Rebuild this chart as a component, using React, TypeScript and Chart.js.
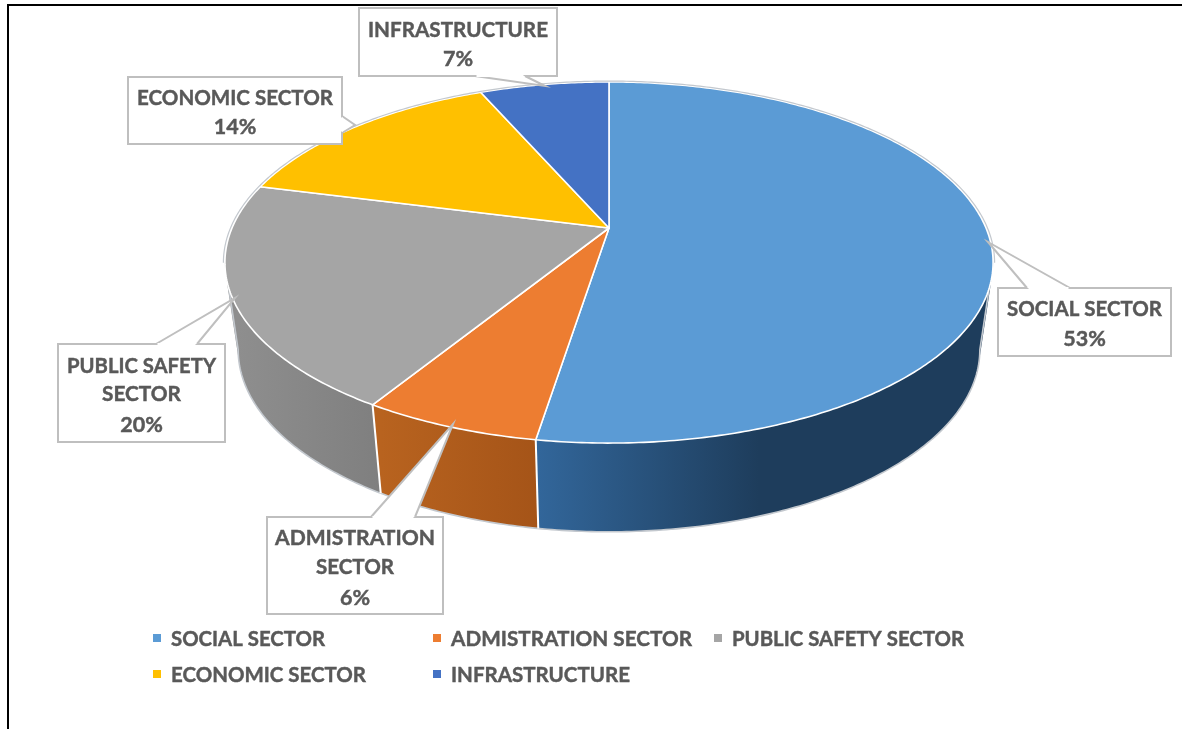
import React, { useEffect, useRef } from "react";
import { Chart, registerables } from "chart.js";

Chart.register(...registerables);

// ---- data ----
const categories = ["SOCIAL SECTOR", "ADMISTRATION SECTOR", "PUBLIC SAFETY SECTOR", "ECONOMIC SECTOR", "INFRASTRUCTURE"];
const shares = [52.52, 6.28, 20.2, 14.45, 6.55];

// ---- styles ----
const topColors = ["#5B9BD5", "#ED7D31", "#A5A5A5", "#FFC000", "#4472C4"];
const wallLeft = ["#32669A", "#B8631F", "#8E8E8E", "#A57C00", "#2C4A80"];
const wallRight = ["#1E3D5C", "#A55418", "#7F7F7F", "#A57C00", "#2C4A80"];
const TEXT = "#595959";
const FONT = "bold 21.5px Lato, Carlito, sans-serif";

// projection of the disc (perspective, as in the 3D pie)
const CX = 609;
const PERSP = 0.191;
const TOP = { y0: 228, A: 377, B: 174 };
const BOTTOM = { y0: 315, A: 364, B: 175.4 };
const TANGENT_R = Math.acos(-PERSP);
const TANGENT_L = Math.PI * 2 - TANGENT_R;

function project(theta: number, p: { y0: number; A: number; B: number }) {
  const u = Math.sin(theta);
  const v = -Math.cos(theta);
  const w = 1 - PERSP * v;
  return { x: CX + (p.A * u) / w, y: p.y0 + (p.B * v) / w };
}

function samples(a: number, b: number) {
  const n = Math.max(4, Math.ceil((b - a) * 90));
  const out: number[] = [];
  for (let i = 0; i <= n; i++) out.push(a + ((b - a) * i) / n);
  return out;
}

// label boxes, in category order
const callouts = [
  { box: [998, 288, 1171, 356], lines: [309, 339], wrap: [[1007, 1162]], ptr: [[1027, 288], [988, 242], [1070, 288]] },
  { box: [267, 517, 443, 614], lines: [538, 567, 598], wrap: [[276, 436], [317, 395]], ptr: [[371, 517], [453, 424], [415, 517]] },
  { box: [58, 344, 225, 442], lines: [366, 394, 425], wrap: [[67, 216], [102, 181]], ptr: [[156, 344], [235, 298], [197, 344]] },
  { box: [128, 77, 342, 144], lines: [98, 127], wrap: [[137, 333]], ptr: [[342, 116], [355, 125], [342, 133]] },
  { box: [359, 8, 557, 76], lines: [30, 59], wrap: [[368, 548]], ptr: [[475, 76], [545, 86], [525, 76]] },
];
const labelLines = [["SOCIAL SECTOR"], ["ADMISTRATION", "SECTOR"], ["PUBLIC SAFETY", "SECTOR"], ["ECONOMIC SECTOR"], ["INFRASTRUCTURE"]];

const legendSlots = [
  { x: 153, y: 639, tx: 171, w: 154 },
  { x: 433, y: 639, tx: 451, w: 241 },
  { x: 714, y: 639, tx: 732, w: 232 },
  { x: 153, y: 675, tx: 171, w: 195 },
  { x: 433, y: 675, tx: 451, w: 179 },
];

function boldText(ctx: any, s: string, x: number, y: number, w?: number) {
  ctx.lineWidth = 0.45;
  ctx.strokeStyle = TEXT;
  if (w) {
    ctx.fillText(s, x, y, w);
    ctx.strokeText(s, x, y, w);
  } else {
    ctx.fillText(s, x, y);
    ctx.strokeText(s, x, y);
  }
}

const pie3d = {
  id: "pie3d",
  beforeDatasetsDraw(chart: any) {
    const ctx = chart.ctx;
    const arcs = chart.getDatasetMeta(0).data;
    const ang = arcs.map((a: any) => [a.startAngle + Math.PI / 2, a.endAngle + Math.PI / 2]);
    ctx.save();

    // frame
    ctx.strokeStyle = "#000";
    ctx.lineWidth = 2;
    ctx.beginPath();
    ctx.moveTo(8, 729);
    ctx.lineTo(8, 5);
    ctx.lineTo(1182, 5);
    ctx.stroke();

    // walls: all the small quads of a slice in one path, wound the same way,
    // so no seams show and the silhouette is swept
    ang.forEach(([a, b]: number[], i: number) => {
      const ts = samples(a, b);
      const topPts = ts.map((t) => project(t, TOP));
      const lowPts = ts.map((t) => project(t, BOTTOM));
      const xs = lowPts.map((p) => p.x);
      const grad = ctx.createLinearGradient(Math.min(...xs), 0, Math.max(...xs), 0);
      grad.addColorStop(0, wallLeft[i]);
      grad.addColorStop(i === 0 ? 0.5 : 1, wallRight[i]);
      ctx.fillStyle = grad;
      ctx.beginPath();
      for (let k = 0; k + 1 < ts.length; k++) {
        const q = [topPts[k], topPts[k + 1], lowPts[k + 1], lowPts[k]];
        let area = 0;
        q.forEach((p, n) => {
          const r = q[(n + 1) % 4];
          area += p.x * r.y - r.x * p.y;
        });
        if (area < 0) q.reverse();
        ctx.moveTo(q[0].x, q[0].y);
        ctx.lineTo(q[1].x, q[1].y);
        ctx.lineTo(q[2].x, q[2].y);
        ctx.lineTo(q[3].x, q[3].y);
        ctx.closePath();
      }
      ctx.fill();
    });

    // outer silhouette of the lower rim, with its two tangents
    ctx.strokeStyle = "#C3C8CE";
    ctx.lineWidth = 1.6;
    ctx.beginPath();
    const sr = project(TANGENT_R, TOP);
    ctx.moveTo(sr.x, sr.y);
    samples(TANGENT_R, TANGENT_L).forEach((t) => {
      const p = project(t, BOTTOM);
      ctx.lineTo(p.x, p.y);
    });
    const sl = project(TANGENT_L, TOP);
    ctx.lineTo(sl.x, sl.y);
    ctx.stroke();

    // vertical seams between visible walls
    ctx.strokeStyle = "#FFFFFF";
    ctx.lineWidth = 2;
    [ang[1][0], ang[2][0]].forEach((t: number) => {
      const p = project(t, TOP);
      const q = project(t, BOTTOM);
      ctx.beginPath();
      ctx.moveTo(p.x, p.y);
      ctx.lineTo(q.x, q.y);
      ctx.stroke();
    });

    // top faces
    ang.forEach(([a, b]: number[], i: number) => {
      ctx.fillStyle = topColors[i];
      ctx.strokeStyle = "#FFFFFF";
      ctx.lineWidth = 1.6;
      ctx.lineJoin = "round";
      ctx.beginPath();
      ctx.moveTo(CX, TOP.y0);
      samples(a, b).forEach((t) => {
        const p = project(t, TOP);
        ctx.lineTo(p.x, p.y);
      });
      ctx.closePath();
      ctx.fill();
      ctx.stroke();
    });

    // thin grey rim on the back of the disc
    ctx.strokeStyle = "#C3C8CE";
    ctx.lineWidth = 1.2;
    ctx.beginPath();
    samples(TANGENT_L - Math.PI * 2, TANGENT_R).forEach((t, k) => {
      const p = project(t, { ...TOP, A: TOP.A + 1.5, B: TOP.B + 1 });
      k ? ctx.lineTo(p.x, p.y) : ctx.moveTo(p.x, p.y);
    });
    ctx.stroke();

    ctx.restore();
    return false;
  },
  afterDraw(chart: any) {
    const ctx = chart.ctx;
    const values: number[] = chart.data.datasets[0].data;
    const labels: string[] = chart.data.labels;
    const total = values.reduce((s, v) => s + v, 0);
    ctx.save();
    ctx.font = FONT;
    ctx.textBaseline = "middle";

    // callouts
    callouts.forEach((c, i) => {
      const [x0, y0, x1, y1] = c.box;
      ctx.fillStyle = "#FFFFFF";
      ctx.strokeStyle = "#BFBFBF";
      ctx.lineWidth = 2;
      ctx.fillRect(x0, y0, x1 - x0, y1 - y0);
      ctx.strokeRect(x0, y0, x1 - x0, y1 - y0);
      ctx.beginPath();
      ctx.moveTo(c.ptr[0][0], c.ptr[0][1]);
      ctx.lineTo(c.ptr[1][0], c.ptr[1][1]);
      ctx.lineTo(c.ptr[2][0], c.ptr[2][1]);
      ctx.closePath();
      ctx.fill();
      ctx.beginPath();
      ctx.moveTo(c.ptr[0][0], c.ptr[0][1]);
      ctx.lineTo(c.ptr[1][0], c.ptr[1][1]);
      ctx.lineTo(c.ptr[2][0], c.ptr[2][1]);
      ctx.stroke();
      // hide the box edge under the pointer's mouth
      ctx.strokeStyle = "#FFFFFF";
      ctx.beginPath();
      const dx = Math.sign(c.ptr[2][0] - c.ptr[0][0]);
      const dy = Math.sign(c.ptr[2][1] - c.ptr[0][1]);
      ctx.moveTo(c.ptr[0][0] + dx * 1.5, c.ptr[0][1] + dy * 1.5);
      ctx.lineTo(c.ptr[2][0] - dx * 1.5, c.ptr[2][1] - dy * 1.5);
      ctx.stroke();

      ctx.fillStyle = TEXT;
      ctx.textAlign = "center";
      const cx = (x0 + x1) / 2;
      const rows = [...labelLines[i], Math.round((values[i] / total) * 100) + "%"];
      rows.forEach((row, k) => {
        const w = c.wrap[k];
        boldText(ctx, row, cx, c.lines[k], w ? w[1] - w[0] : undefined);
      });
    });

    // legend
    ctx.textAlign = "left";
    legendSlots.forEach((s, i) => {
      ctx.fillStyle = topColors[i];
      ctx.fillRect(s.x, s.y - 5, 8, 8);
      ctx.fillStyle = TEXT;
      boldText(ctx, labels[i], s.tx, s.y, s.w);
    });
    ctx.restore();
  },
};

export default function App() {
  const ref = useRef<HTMLCanvasElement>(null);
  useEffect(() => {
    document.body.style.margin = "0";
    document.body.style.background = "#fff";
    const chart = new Chart(ref.current as HTMLCanvasElement, {
      type: "pie",
      data: {
        labels: categories,
        datasets: [{ data: shares, backgroundColor: topColors }],
      },
      options: {
        responsive: false,
        animation: false,
        plugins: { legend: { display: false }, tooltip: { enabled: false } },
      },
      plugins: [pie3d],
    } as any);
    return () => chart.destroy();
  }, []);
  return <canvas ref={ref} width={1182} height={729} style={{ display: "block" }} />;
}
